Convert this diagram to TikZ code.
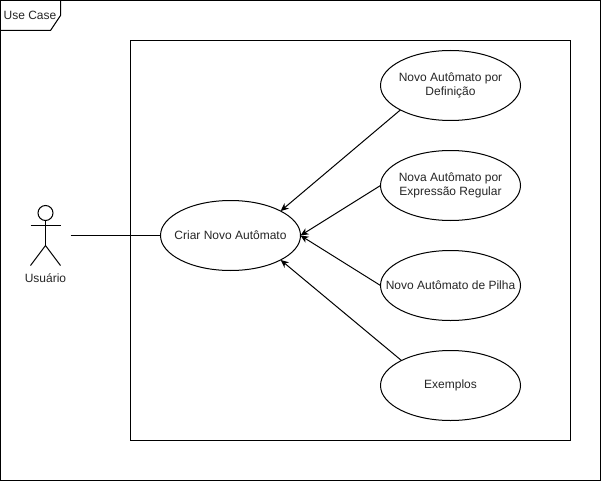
\documentclass[tikz,border=0pt]{standalone}
\usepackage{fontspec}
\setmainfont{Liberation Sans}
\usetikzlibrary{shapes.geometric,arrows.meta}
\tikzset{
  base/.style={line width=1pt,draw=black,line cap=butt},
  usecase/.style={base,ellipse,minimum width=140pt,minimum height=70pt,inner sep=0pt,outer sep=0pt},
  label/.style={inner sep=0pt,outer sep=0pt,align=center,font=\fontsize{12pt}{14pt}\selectfont,text=black!85},
  link/.style={base,-{Stealth[length=8pt,width=7pt,inset=2.5pt]}},
}
\begin{document}
\begin{tikzpicture}[x=1pt,y=-1pt]
\useasboundingbox (0,0) rectangle (601,481);
\fill[white] (0,0) rectangle (601,481);
% frame
\draw[base] (0.5,0.5) rectangle (600.5,480.5);
\draw[base] (0.5,30.5) -- (50.5,30.5) -- (60.5,15.5) -- (60.5,0.5);
\node[label] (tab) at (30,15) {Use Case};
% system box
\draw[base] (130.5,40.5) rectangle (570.5,440.5);
% use cases
\node[usecase] (criar) at (230.5,235.5) {};
\node[label] (criarT) at (criar) {Criar Novo Autômato};
\node[usecase] (def) at (450.5,85.5) {};
\node[label] (defT) at (def) {Novo Autômato por\\Definição};
\node[usecase] (er) at (450.5,185.5) {};
\node[label] (erT) at (er) {Nova Autômato por\\Expressão Regular};
\node[usecase] (pilha) at (450.5,285.5) {};
\node[label] (pilhaT) at (pilha) {Novo Autômato de Pilha};
\node[usecase] (ex) at (450.5,385.5) {};
\node[label] (exT) at (ex) {Exemplos};
% actor
\node[base,circle,minimum size=15pt,inner sep=0pt,outer sep=0pt] (head) at (45.5,213) {};
\coordinate (hip) at (45.5,245.5);
\coordinate (armL) at (30.5,225.5);
\coordinate (armR) at (60.5,225.5);
\coordinate (legL) at (30.5,265.5);
\coordinate (legR) at (60.5,265.5);
\draw[base] (head.south) -- (hip);
\draw[base] (armL) -- (armR);
\draw[base] (legL) -- (hip) -- (legR);
\node[label] (usuario) at (45.5,278.5) {Usuário};
% connectors
\coordinate (actorEnd) at (70.5,235.5);
\draw[base] (actorEnd) -- (criar.west);
\draw[link] (def.206.57) -- (criar.26.57);
\draw[link] (er.west) -- (criar.east);
\draw[link] (pilha.west) -- (criar.east);
\draw[link] (ex.153.43) -- (criar.-26.57);
\end{tikzpicture}
\end{document}
